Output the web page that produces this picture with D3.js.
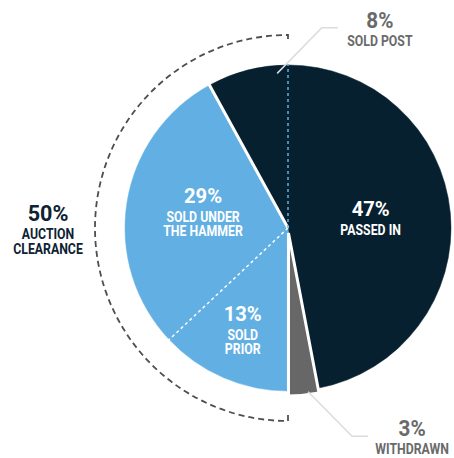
<!DOCTYPE html>
<html>
<head>
<meta charset="utf-8">
<script src="https://cdn.jsdelivr.net/npm/d3@7"></script>
<style>
    body { margin: 0; background: #fff; }
    text { font-family: "Roboto", "Liberation Sans", sans-serif; font-weight: bold; }
</style>
</head>
<body>
<script>
// data
var categories = ['PASSED IN', 'WITHDRAWN', 'SOLD PRIOR', 'SOLD UNDER THE HAMMER', 'SOLD POST'];
var values = [47, 3, 13, 29, 8];
var labelLines = [['PASSED IN'], ['WITHDRAWN'], ['SOLD', 'PRIOR'], ['SOLD UNDER', 'THE HAMMER'], ['SOLD POST']];
var clearanceValue = 50;
var clearanceLines = ['AUCTION', 'CLEARANCE'];

var width = 454;
var height = 458;
var cx = 288;
var cy = 228;
var radius = 163;

var navy = '#06202f';
var blue = '#62b0e3';
var grey = '#676767';
var colors = [navy, grey, blue, blue, navy];

var svg = d3.select('body')
    .append('svg')
    .attr('width', width)
    .attr('height', height);

var g = svg.append('g')
    .attr('transform', `translate(${cx},${cy})`);

var pie = d3.pie().sort(null).value(d => d);
var arcs = pie(values);
var arc = d3.arc().innerRadius(0).outerRadius(radius);

// slices
g.selectAll('path.slice')
    .data(arcs).enter()
    .filter((d, i) => i !== 1)
    .append('path')
    .attr('class', 'slice')
    .attr('d', arc)
    .attr('fill', (d, i) => colors[d.index])
    .attr('stroke', (d) => colors[d.index])
    .attr('stroke-width', 0.5);

// boundaries between slices
function edge(angle, style) {
    var p = d3.pointRadial(angle, radius + 1);
    g.append('line')
        .attr('x1', 0).attr('y1', 0)
        .attr('x2', p[0]).attr('y2', p[1])
        .attr('stroke', style.color)
        .attr('stroke-width', style.w)
        .attr('stroke-dasharray', style.dash || null);
}
edge(arcs[4].startAngle, {color: '#fff', w: 3});
edge(arcs[3].startAngle, {color: '#fff', w: 1.5, dash: '3,3'});
edge(arcs[0].startAngle, {color: blue, w: 1.5, dash: '3,3'});

// withdrawn slice pulled out a little
var w = arcs[1];
var mid = (w.startAngle + w.endAngle) / 2;
var off = d3.pointRadial(mid, 5);
g.append('path')
    .attr('d', arc(w))
    .attr('transform', `translate(${off[0]},${off[1]})`)
    .attr('fill', grey)
    .attr('stroke', '#fff')
    .attr('stroke-width', 3)
    .attr('stroke-linejoin', 'miter');

// text blocks: big percentage + small caption lines
function block(x, y, big, lines, color, bigSize) {
    var t = svg.append('g').attr('transform', `translate(${x},${y})`);
    t.append('text')
        .attr('text-anchor', 'middle')
        .attr('y', 0)
        .attr('fill', color)
        .attr('font-size', bigSize)
        .attr('transform', 'scale(0.96,1)')
        .text(big);
    lines.forEach((l, i) => {
        t.append('text')
            .attr('text-anchor', 'middle')
            .attr('y', 18.5 + i * 14.5)
            .attr('fill', color)
            .attr('font-size', 14.3)
            .attr('transform', 'scale(0.86,1)')
            .text(l);
    });
}

var inside = {0: 83, 2: 114, 3: 86};
arcs.forEach((d, i) => {
    if (inside[i] === undefined) return;
    var m = (d.startAngle + d.endAngle) / 2;
    var p = d3.pointRadial(m, inside[i]);
    var n = labelLines[i].length;
    block(cx + p[0], cy + p[1] - (n - 1) * 7.5 - 4, values[i] + '%', labelLines[i], '#fff', 21);
});

// leader lines for the small slices
function leader(d, a1, r1, a2, r2, run) {
    var p1 = d3.pointRadial(a1, r1);
    var p2 = d3.pointRadial(a2, r2);
    var pts = [p1, p2, [p2[0] + run, p2[1]]];
    g.append('path')
        .attr('d', d3.line()(pts))
        .attr('fill', 'none')
        .attr('stroke', '#dcdcdc')
        .attr('stroke-width', 1.5);
    return [cx + p2[0] + run, cy + p2[1]];
}

var deg = Math.PI / 180;
var e4 = leader(arcs[4], arcs[4].endAngle - 4 * deg, 155, arcs[4].endAngle + 9.6 * deg, 203, 16);
block(e4[0] + 42, e4[1], values[4] + '%', labelLines[4], '#6a6a6a', 21.5);

var e1 = leader(arcs[1], mid - 1.6 * deg, 165, mid - 11.7 * deg, 218, 16);
block(e1[0] + 44, e1[1] - 0.5, values[1] + '%', labelLines[1], '#6a6a6a', 21.5);

// dashed bracket for auction clearance
var br = 193;
var a0 = arcs[2].startAngle;
var a1 = arcs[4].endAngle;
var tick = 6;
var path = d3.path();
var s0 = d3.pointRadial(a0, br - tick);
var s1 = d3.pointRadial(a0, br);
path.moveTo(s0[0], s0[1]);
path.lineTo(s1[0], s1[1]);
path.arc(0, 0, br, a0 - Math.PI / 2, a1 - Math.PI / 2, false);
var s2 = d3.pointRadial(a1, br - tick);
path.lineTo(s2[0], s2[1]);
g.append('path')
    .attr('d', path.toString())
    .attr('fill', 'none')
    .attr('stroke', '#4d4d55')
    .attr('stroke-width', 1.8)
    .attr('stroke-dasharray', '6,4');

block(cx - br - 47, cy - 7, clearanceValue + '%', clearanceLines, '#0d2233', 22.5);
</script>
</body>
</html>
